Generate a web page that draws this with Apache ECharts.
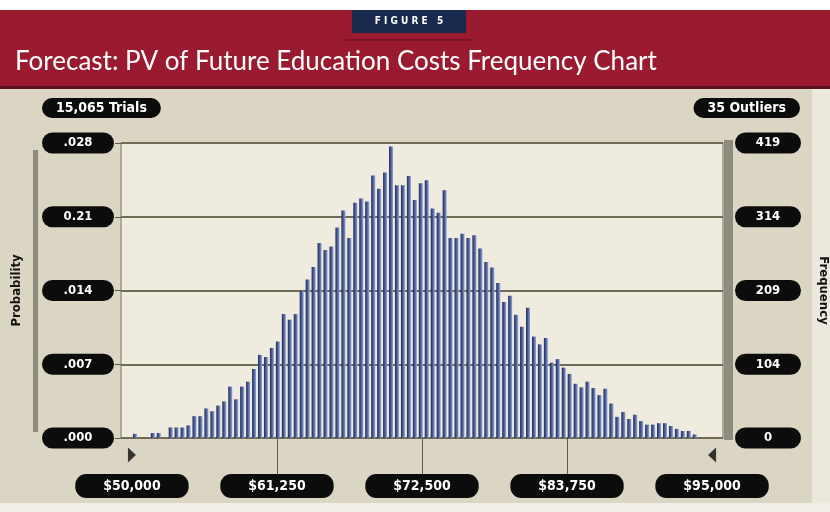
<!DOCTYPE html>
<html>
<head>
<meta charset="utf-8">
<script src="https://cdn.jsdelivr.net/npm/echarts@6/dist/echarts.min.js"></script>
<style>
  html, body { margin: 0; padding: 0; background: #ffffff; }
  #chart { width: 830px; height: 512px; }
</style>
</head>
<body>
<div id="chart"></div>
<script>
// Histogram bins of the simulated present value (dollars)
const binStart = 50000;
const binWidth = 462;

// Frequency of trials falling in each bin
const frequencies = [
  6, 0, 0, 7, 7, 0, 15, 15, 15, 18,
  31, 31, 42, 38, 46, 52, 73, 55, 73, 80,
  98, 118, 115, 128, 137, 176, 168, 176, 209, 225,
  243, 277, 267, 272, 299, 323, 284, 334, 340, 336,
  373, 354, 377, 414, 359, 359, 372, 338, 362, 366,
  326, 320, 352, 284, 284, 290, 284, 288, 269, 250,
  242, 220, 193, 202, 175, 158, 185, 144, 133, 142,
  107, 112, 100, 91, 77, 72, 80, 71, 61, 70,
  49, 30, 37, 27, 33, 24, 19, 19, 21, 21,
  17, 13, 10, 10, 5, 0, 0
];

// Axis ticks and their printed labels
const xTickValues = [50000, 61250, 72500, 83750, 95000];
const probTickValues = [0, 0.007, 0.014, 0.021, 0.028];
const probTickLabels = ['.000', '.007', '.014', '0.21', '.028'];
const freqTickValues = [0, 104.75, 209.5, 314.25, 419];
const freqTickLabels = ['0', '104', '209', '314', '419'];

// Display range end points (certainty grabbers)
const grabberValues = [50000, 95000];

const trialsText = '15,065 Trials';
const outliersText = '35 Outliers';
const figureText = 'F I G U R E   5';
const titleText = 'Forecast: PV of Future Education Costs Frequency Chart';

const pillFont = "'Liberation Sans Narrow', 'DejaVu Sans Condensed', sans-serif";

const barData = frequencies.map((f, i) => [binStart + binWidth * (i + 0.5), f]);

const chart = echarts.init(document.getElementById('chart'), null, { renderer: 'canvas' });

const pill = {
  color: '#ffffff',
  fontFamily: pillFont,
  fontWeight: 'bold',
  fontSize: 13,
  backgroundColor: '#0c0c0c',
  borderRadius: 11
};

chart.setOption({
  backgroundColor: '#ffffff',
  animation: false,
  graphic: [
    // page panels
    { type: 'rect', z: -10, shape: { x: 0, y: 88, width: 830, height: 416 }, style: { fill: '#dbd6c4' } },
    { type: 'rect', z: -9, shape: { x: 812, y: 88, width: 18, height: 416 }, style: { fill: '#ebe8dd' } },
    { type: 'rect', z: -9, shape: { x: 0, y: 503, width: 830, height: 9 }, style: { fill: '#f1eee6' } },
    { type: 'rect', z: -8, shape: { x: 0, y: 10, width: 830, height: 78 }, style: { fill: '#9a1a30' } },
    { type: 'rect', z: -7, shape: { x: 0, y: 86, width: 830, height: 3 }, style: { fill: '#5a1020' } },
    { type: 'rect', z: -7, shape: { x: 352, y: 10, width: 114, height: 23 }, style: { fill: '#172a4e' } },
    { type: 'rect', z: -7, shape: { x: 342, y: 39, width: 132, height: 2 }, style: { fill: '#7e1325' } },
    { type: 'text', z: -6, x: 409, y: 21, style: { text: figureText, fill: '#ffffff', font: "bold 10px 'DejaVu Sans Condensed', sans-serif", textAlign: 'center', textVerticalAlign: 'middle' } },
    // side rails
    { type: 'rect', z: -5, shape: { x: 33, y: 150, width: 5, height: 282 }, style: { fill: '#8e8b7d' } },
    { type: 'rect', z: 5, shape: { x: 724, y: 140, width: 9, height: 300 }, style: { fill: '#8f8c7f' } }
  ],
  title: [
    { text: titleText, left: 10, top: 44, textStyle: { color: '#ffffff', fontFamily: "'Lato', sans-serif", fontSize: 26, fontWeight: 'normal' } },
    { text: trialsText, left: 42, top: 98, padding: [3, 14], backgroundColor: '#0c0c0c', borderRadius: 11,
      textStyle: { color: '#ffffff', fontFamily: pillFont, fontWeight: 'bold', fontSize: 14 } },
    { text: outliersText, right: 30, top: 98, padding: [3, 14], backgroundColor: '#0c0c0c', borderRadius: 11,
      textStyle: { color: '#ffffff', fontFamily: pillFont, fontWeight: 'bold', fontSize: 14 } }
  ],
  grid: {
    left: 121, right: 107, top: 143, bottom: 74,
    outerBoundsMode: 'none', containLabel: false,
    show: true, backgroundColor: '#efebdf', borderColor: '#76725f', borderWidth: 1
  },
  xAxis: {
    type: 'value', min: 49150, max: 95850,
    splitLine: { show: false },
    axisLine: { show: false },
    axisTick: { show: true, customValues: [61250, 72500, 83750], length: 36, inside: false, lineStyle: { color: '#5d5a4c', width: 1 } },
    axisLabel: Object.assign({}, pill, {
      customValues: xTickValues, margin: 36, padding: [5, 28], fontSize: 14,
      formatter: v => '$' + v.toLocaleString('en-US')
    })
  },
  yAxis: [
    {
      type: 'value', min: 0, max: 0.028, position: 'left',
      name: 'Probability', nameLocation: 'middle', nameGap: 98, nameRotate: 90,
      nameTextStyle: { color: '#111', fontFamily: pillFont, fontWeight: 'bold', fontSize: 13 },
      axisLine: { show: false },
      axisTick: { show: true, customValues: probTickValues, length: 6, lineStyle: { color: '#5d5a4c' } },
      splitLine: { show: true, lineStyle: { color: '#6f6b57', width: 2 } },
      axisLabel: Object.assign({}, pill, {
        customValues: probTickValues, margin: 43, align: 'center', width: 40, padding: [4, 16],
        formatter: v => probTickLabels[probTickValues.findIndex(t => Math.abs(t - v) < 1e-9)]
      })
    },
    {
      type: 'value', min: 0, max: 419, position: 'right',
      name: 'Frequency', nameLocation: 'middle', nameGap: 94, nameRotate: -90,
      nameTextStyle: { color: '#111', fontFamily: pillFont, fontWeight: 'bold', fontSize: 13 },
      axisLine: { show: false },
      axisTick: { show: false },
      splitLine: { show: false },
      axisLabel: Object.assign({}, pill, {
        customValues: freqTickValues, margin: 45, align: 'center', width: 34, padding: [4, 16],
        formatter: v => freqTickLabels[freqTickValues.findIndex(t => Math.abs(t - v) < 1e-6)]
      })
    }
  ],
  series: [
    {
      name: 'Frequency',
      type: 'bar',
      yAxisIndex: 1,
      barWidth: 4,
      data: barData,
      itemStyle: {
        color: new echarts.graphic.LinearGradient(0, 0, 1, 0, [
          { offset: 0, color: '#222b55' },
          { offset: 0.45, color: '#465894' },
          { offset: 1, color: '#93a4d6' }
        ])
      }
    },
    {
      name: 'Range',
      type: 'scatter',
      yAxisIndex: 1,
      clip: false,
      silent: true,
      symbol: 'triangle',
      symbolSize: [15, 8],
      data: [
        { value: [grabberValues[0], -24], symbolRotate: -90 },
        { value: [grabberValues[1], -24], symbolRotate: 90 }
      ],
      itemStyle: { color: '#0c0c0c' }
    }
  ]
});
</script>
</body>
</html>
